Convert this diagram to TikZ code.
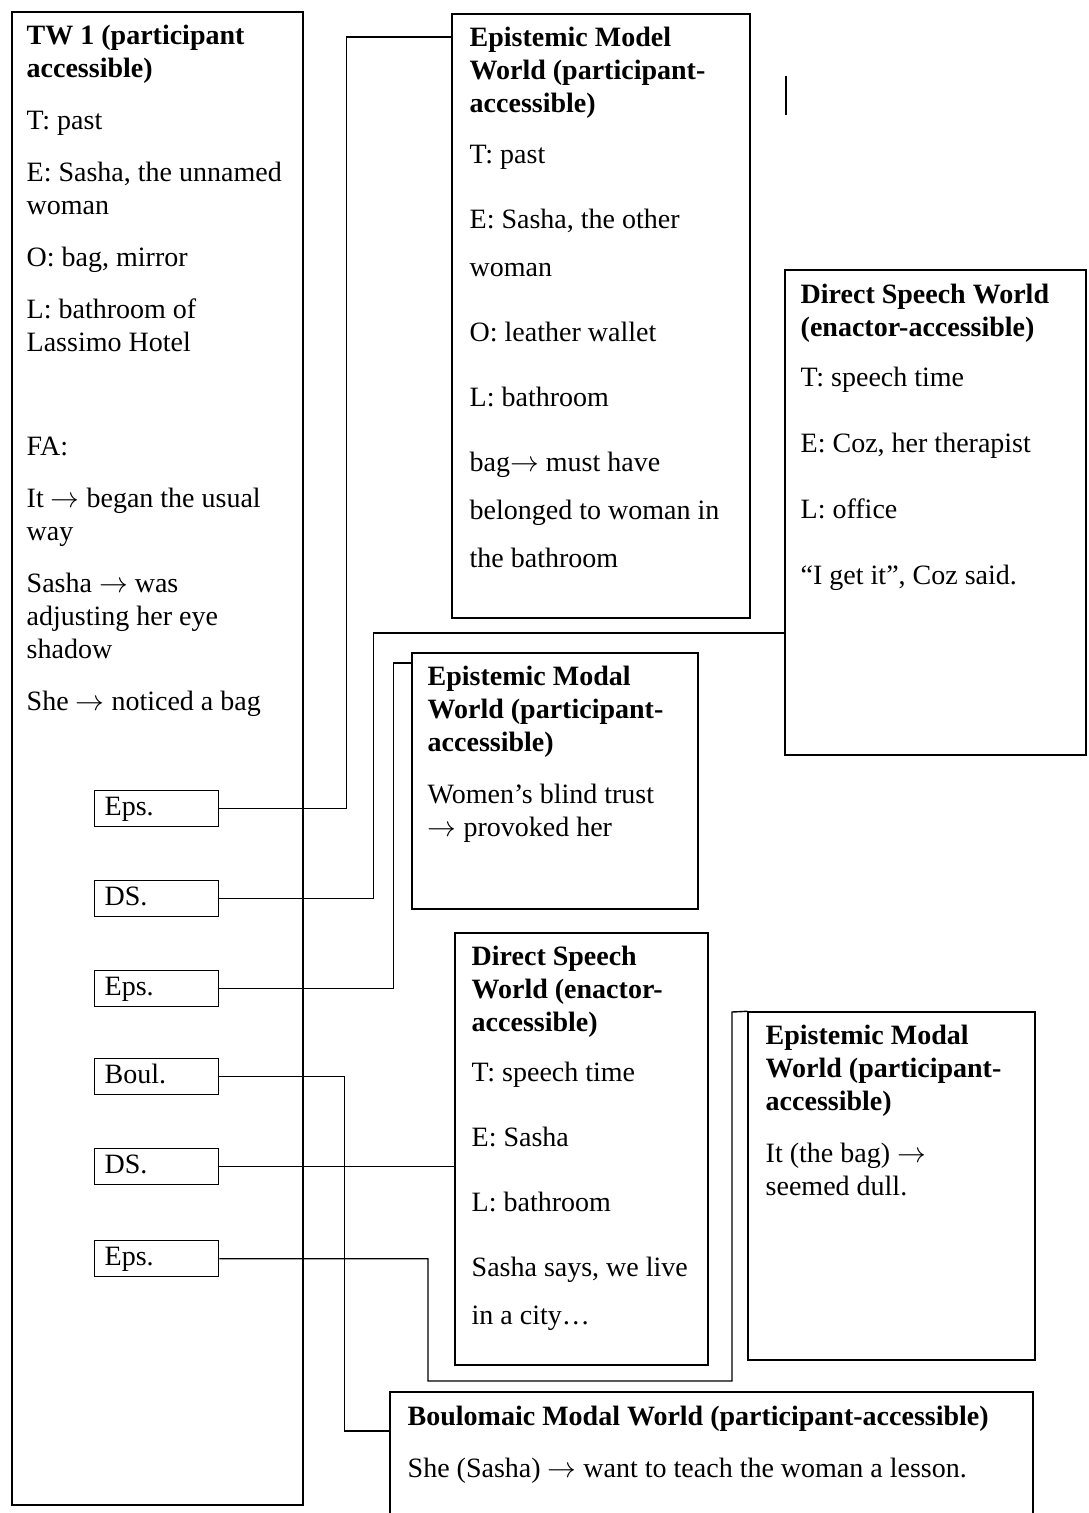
\documentclass[tikz,border=0pt]{standalone}
\usepackage{fontspec}
\setmainfont{Liberation Serif}
\usetikzlibrary{positioning,calc,fit}

\tikzset{
  world/.style={draw, line width=0.7pt, inner sep=0pt},
  wtext/.style={anchor=north west, inner sep=0pt, align=left, font=\fontsize{14}{16.5}\selectfont},
  tagbox/.style={draw, line width=0.7pt, anchor=north west, minimum height=18pt, text width=52pt, text height=10pt, text depth=3pt, inner xsep=5pt, inner ysep=2.5pt, align=left, font=\fontsize{14}{16.5}\selectfont},
  link/.style={line width=0.7pt}
}
\newcommand{\goes}{$\rightarrow$}

\begin{document}
\begin{tikzpicture}[x=0.5pt, y=-0.5pt]
    \useasboundingbox (0,0) rectangle (1088,1513);
    \clip (0,0) rectangle (1088,1513);

    % world boxes
    \node [world, fit={(12,12) (303,1505)}] (tw) {};
    \node [world, fit={(452,14) (750,618)}] (emw) {};
    \node [world, fit={(785,270) (1086,755)}] (dsa) {};
    \node [world, fit={(412,653) (698,909)}] (emb) {};
    \node [world, fit={(455,933) (708,1365)}] (dsb) {};
    \node [world, fit={(748,1012) (1035,1360)}] (emc) {};
    \node [world, fit={(390,1392) (1033,1540)}] (bmw) {};

    % texts
    \node [wtext] at ($(tw.north west)+(15,13)$) {\textbf{TW 1 (participant}\\ \textbf{accessible)}\\[9.5pt]
      T: past\\[9.5pt]
      E: Sasha, the unnamed\\ woman\\[9.5pt]
      O: bag, mirror\\[9.5pt]
      L: bathroom of\\ Lassimo Hotel\\[35.5pt]
      FA:\\[9.5pt]
      It \goes{} began the usual\\ way\\[9.5pt]
      Sasha \goes{} was\\ adjusting her eye\\ shadow\\[9.5pt]
      She \goes{} noticed a bag};
    \node [wtext] at ($(emw.north west)+(18,13)$) {\textbf{Epistemic Model}\\ \textbf{World (participant-}\\ \textbf{accessible)}\\[9pt]
      T: past\\[16pt]
      E: Sasha, the other\\[7.5pt] woman\\[16pt]
      O: leather wallet\\[16pt]
      L: bathroom\\[16pt]
      bag\goes{} must have\\[7.5pt] belonged to woman in\\[7.5pt] the bathroom};
    \node [wtext] at ($(dsa.north west)+(16,14)$) {\textbf{Direct Speech World}\\ \textbf{(enactor-accessible)}\\[8.5pt]
      T: speech time\\[16.5pt]
      E: Coz, her therapist\\[16.5pt]
      L: office\\[16.5pt]
      “I get it”, Coz said.};
    \node [wtext] at ($(emb.north west)+(16,13)$) {\textbf{Epistemic Modal}\\ \textbf{World (participant-}\\ \textbf{accessible)}\\[9.5pt]
      Women’s blind trust\\ \goes{} provoked her};
    \node [wtext] at ($(dsb.north west)+(17,13)$) {\textbf{Direct Speech}\\ \textbf{World (enactor-}\\ \textbf{accessible)}\\[8.5pt]
      T: speech time\\[16pt]
      E: Sasha\\[16pt]
      L: bathroom\\[16pt]
      Sasha says, we live\\[7.5pt] in a city…};
    \node [wtext] at ($(emc.north west)+(18,13)$) {\textbf{Epistemic Modal}\\ \textbf{World (participant-}\\ \textbf{accessible)}\\[9.5pt]
      It (the bag) \goes\\ seemed dull.};
    \node [wtext] at ($(bmw.north west)+(18,14)$) {\textbf{Boulomaic Modal World (participant-accessible)}\\[9.5pt]
      She (Sasha) \goes{} want to teach the woman a lesson.};

    % tags in TW 1
    \node [tagbox] at (94,790) (eps1) {Eps.};
    \node [tagbox] at (94,880) (ds1) {DS.};
    \node [tagbox] at (94,970) (eps2) {Eps.};
    \node [tagbox] at (94,1058) (boul) {Boul.};
    \node [tagbox] at (94,1148) (ds2) {DS.};
    \node [tagbox] at (94,1240) (eps3) {Eps.};

    % links
    \draw [link] (eps1.east) -- ++(127,0) |- (emw.west |- 0,37);
    \draw [link] (ds1.east) -- ++(154,0) |- (dsa.west |- 0,633);
    \draw [link] (eps2.east) -- ++(174,0) |- (emb.west |- 0,663);
    \draw [link] (boul.east) -- ++(125,0) |- (bmw.west |- 0,1431);
    \draw [link] (ds2.east) -- (dsb.west |- ds2.east);
    \coordinate (e3a) at (428,1381);
    \coordinate (e3b) at (732,1012);
    \draw [link] (eps3.east) -| (e3a) -| (e3b) -- (emc.north west);

    \draw [link] (786,76) -- (786,115);
\end{tikzpicture}
\end{document}
